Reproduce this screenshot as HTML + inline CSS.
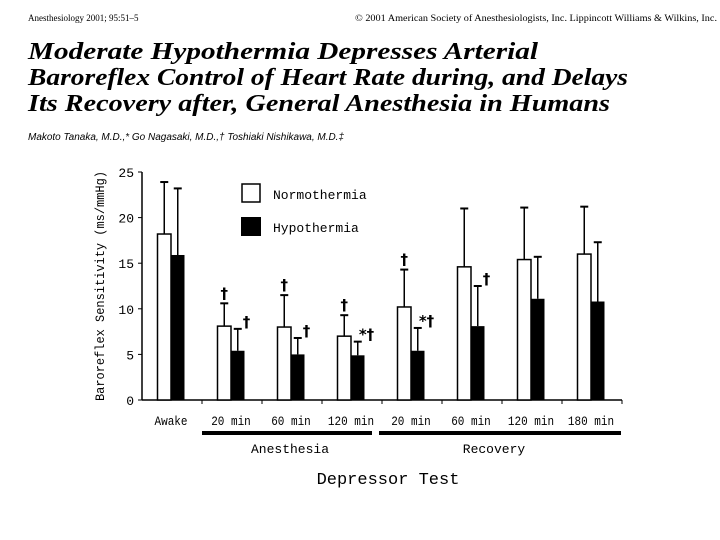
<!DOCTYPE html>
<html><head><meta charset="utf-8"><style>
body{margin:0;background:#fff;}
svg{display:block;}
</style></head><body>
<svg width="720" height="540" viewBox="0 0 720 540" xmlns="http://www.w3.org/2000/svg">
<text x="28" y="21" font-family="Liberation Serif, serif" font-size="9">Anesthesiology 2001; 95:51–5</text>
<text x="355" y="21" font-family="Liberation Serif, serif" font-size="9" textLength="362" lengthAdjust="spacingAndGlyphs">© 2001 American Society of Anesthesiologists, Inc. Lippincott Williams &amp; Wilkins, Inc.</text>
<g font-family="Liberation Serif, serif" font-weight="bold" font-style="italic" font-size="24">
<text x="28" y="59" textLength="510" lengthAdjust="spacingAndGlyphs">Moderate Hypothermia Depresses Arterial</text>
<text x="28" y="85" textLength="600" lengthAdjust="spacingAndGlyphs">Baroreflex Control of Heart Rate during, and Delays</text>
<text x="28" y="111" textLength="582" lengthAdjust="spacingAndGlyphs">Its Recovery after, General Anesthesia in Humans</text>
</g>
<text x="28" y="140" font-family="Liberation Sans, sans-serif" font-style="italic" font-size="10" textLength="316" lengthAdjust="spacingAndGlyphs">Makoto Tanaka, M.D.,* Go Nagasaki, M.D.,† Toshiaki Nishikawa, M.D.‡</text>
<g id="chart"></g>
</svg>
<script>
const categories = ["Awake","20 min","60 min","120 min","20 min","60 min","120 min","180 min"];
const normoValues = [18.2, 8.1, 8.0, 7.0, 10.2, 14.6, 15.4, 16.0];
const normoErrTop = [23.9, 10.6, 11.5, 9.3, 14.3, 21.0, 21.1, 21.2];
const hypoValues = [15.9, 5.4, 5.0, 4.9, 5.4, 8.1, 11.1, 10.8];
const hypoErrTop = [23.2, 7.8, 6.8, 6.4, 7.9, 12.5, 15.7, 17.3];
const normoMarks = ["", "†", "†", "†", "†", "", "", ""];
const hypoMarks = ["", "†", "†", "*†", "*†", "†", "", ""];
const yTicks = [0, 5, 10, 15, 20, 25];

const NS = "http://www.w3.org/2000/svg";
const g = document.getElementById("chart");
const y0 = 400, yTop = 172, yMax = 25, x0 = 142, groupW = 60, bw = 13.5;
const yS = v => y0 - (y0 - yTop) * v / yMax;
const xC = i => x0 + 29 + i * groupW;
function el(tag, attrs, text) {
  const e = document.createElementNS(NS, tag);
  for (const k in attrs) e.setAttribute(k, attrs[k]);
  if (text !== undefined) e.textContent = text;
  g.appendChild(e);
  return e;
}
const mono = "Liberation Mono, DejaVu Sans Mono, monospace";
// axes
let a = el("line", {x1: x0, y1: yTop, x2: x0, y2: y0, stroke: "#000", "stroke-width": 1.5});


a = el("line", {x1: x0, y1: y0, x2: x0 + groupW * 8, y2: y0, stroke: "#000", "stroke-width": 1.5});


yTicks.forEach(t => {
  let l = el("line", {x1: x0 - 4, y1: yS(t), x2: x0, y2: yS(t), stroke: "#000"});
  
  
  let tx = el("text", {x: x0 - 8, y: yS(t) + 5, "text-anchor": "end", "font-family": mono, "font-size": 13}, String(t));
  
  
});
for (let i = 1; i <= 8; i++) {
  let l = el("line", {x1: x0 + i * groupW, y1: y0, x2: x0 + i * groupW, y2: y0 + 4, stroke: "#000"});
  
  
}
categories.forEach((c, i) => {
  const cx = xC(i);
  // error bars
  [[cx - bw / 2, normoErrTop[i], normoValues[i]], [cx + bw / 2, hypoErrTop[i], hypoValues[i]]].forEach(([ex, top, v]) => {
    let e = el("line", {x1: ex, y1: yS(top), x2: ex, y2: yS(v), stroke: "#000", "stroke-width": 1.5});
    
    
    let cap = el("line", {x1: ex - 4, y1: yS(top), x2: ex + 4, y2: yS(top), stroke: "#000", "stroke-width": 2});
    
    
  });
  let b = el("rect", {x: cx - bw, y: yS(normoValues[i]), width: bw, height: y0 - yS(normoValues[i]), fill: "#fff", stroke: "#000", "stroke-width": 1.5});
  
  
  b = el("rect", {x: cx, y: yS(hypoValues[i]), width: bw, height: y0 - yS(hypoValues[i]), fill: "#000"});
  
  
  if (normoMarks[i]) {
    let m = el("text", {x: cx - bw / 2, y: yS(normoErrTop[i]) - 5, "text-anchor": "middle", "font-family": "DejaVu Sans, sans-serif", "font-size": 15, "font-weight": "bold"}, normoMarks[i]);
    
    
  }
  if (hypoMarks[i]) {
    let m = el("text", {x: cx + bw + 2, y: yS(hypoErrTop[i]) - 2, "text-anchor": "middle", "font-family": "DejaVu Sans, sans-serif", "font-size": 15, "font-weight": "bold"}, hypoMarks[i]);
    
    
  }
  let t = el("text", {x: cx, y: 425, "text-anchor": "middle", "font-family": mono, "font-size": 13, textLength: c.length * 6.6, lengthAdjust: "spacingAndGlyphs"}, c);
  
  
});
// group bars
let r = el("rect", {x: 202, y: 431, width: 170, height: 4, fill: "#000"});


r = el("rect", {x: 379, y: 431, width: 242, height: 4, fill: "#000"});


let t = el("text", {x: 290, y: 453, "text-anchor": "middle", "font-family": mono, "font-size": 13}, "Anesthesia");


t = el("text", {x: 494, y: 453, "text-anchor": "middle", "font-family": mono, "font-size": 13}, "Recovery");


t = el("text", {x: 388, y: 484, "text-anchor": "middle", "font-family": mono, "font-size": 17}, "Depressor Test");


t = el("text", {x: 0, y: 0, "text-anchor": "middle", "font-family": mono, "font-size": 13, transform: "translate(104,286) rotate(-90)", textLength: 230, lengthAdjust: "spacingAndGlyphs"}, "Baroreflex Sensitivity (ms/mmHg)");


// legend
r = el("rect", {x: 242, y: 184, width: 18, height: 18, fill: "#fff", stroke: "#000", "stroke-width": 1.5});


t = el("text", {x: 273, y: 199, "font-family": mono, "font-size": 13}, "Normothermia");


r = el("rect", {x: 241, y: 217, width: 20, height: 19, fill: "#000"});


t = el("text", {x: 273, y: 232, "font-family": mono, "font-size": 13}, "Hypothermia");


</script>
</body></html>
